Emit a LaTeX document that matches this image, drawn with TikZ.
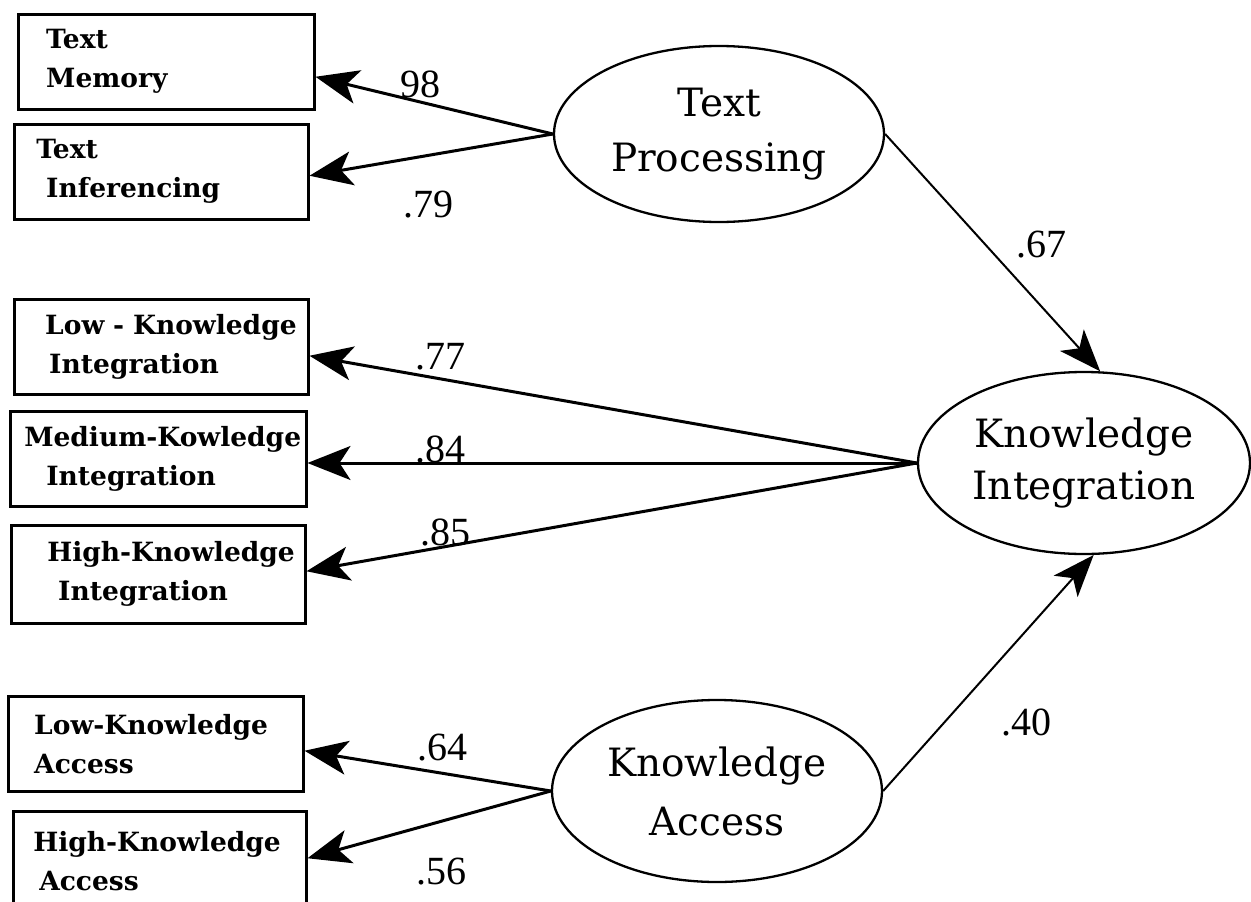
\documentclass[tikz,border=0pt]{standalone}
\usepackage{fontspec}
\setmainfont{Liberation Serif}
\newfontfamily\boxfont{DejaVu Serif}
\newfontfamily\ellfont{DejaVu Serif}
\usetikzlibrary{shapes.geometric,arrows.meta,calc}
\begin{document}
\begin{tikzpicture}[x=1pt,y=-1pt,
  obs/.style={draw,line width=2.5pt,rectangle,anchor=north west,inner xsep=0pt,inner ysep=0pt,
    minimum height=95pt,text width=#1,minimum width=#1,align=left,
    font=\boxfont\bfseries\fontsize{26.5}{39}\selectfont},
  lat/.style={draw,line width=2.3pt,ellipse,inner sep=0pt,minimum width=330pt,minimum height=180pt,
    align=center,font=\ellfont\fontsize{39}{55}\selectfont},
  coef/.style={inner sep=0pt,anchor=center,font=\fontsize{40}{40}\selectfont},
  arr/.style={line width=3pt,-{Stealth[length=43pt,width=34pt,inset=11pt]}},
  arrb/.style={line width=2pt,-{Stealth[length=42pt,width=32pt,inset=11pt]}}]
\useasboundingbox (0,0) rectangle (1251,902);
\clip (0,0) rectangle (1251,902);
\fill[white] (0,0) rectangle (1251,902);

% observed variables
\node[obs=296pt] (tm) at (17,13) {\hspace*{28pt}Text\\\hspace*{28pt}Memory};
\node[obs=294pt] (ti) at (13,123) {\hspace*{22pt}Text\\\hspace*{32pt}Inferencing};
\node[obs=294pt] (lki) at (13,298) {\hspace*{31pt}Low - Knowledge\\\hspace*{35pt}Integration};
\node[obs=296pt] (mki) at (9,410) {\hspace*{14pt}Medium-Kowledge\\\hspace*{36pt}Integration};
\node[obs=294pt, minimum height=98pt] (hki) at (10,524) {\hspace*{36pt}High-Knowledge\\\hspace*{47pt}Integration};
\node[obs=295pt] (lka) at (7,695) {\hspace*{26pt}Low-Knowledge\\\hspace*{26pt}Access};
\node[obs=293pt, minimum height=100pt] (hka) at (12,810) {\hspace*{20pt}High-Knowledge\\\hspace*{26pt}Access};

% latent variables
\node[lat, minimum height=176pt] (tp) at (719,134) {Text\\Processing};
\node[lat, minimum width=332pt, minimum height=182pt, font=\ellfont\fontsize{39}{52}\selectfont] (ki) at (1084,463) {Knowledge\\Integration};
\node[lat, minimum height=182pt, font=\ellfont\fontsize{39}{59}\selectfont] (ka) at (717,791) {Knowledge\\Access};

% paths
\draw[arr] (tp.west) -- ($(tm.east)+(0,15)$);
\draw[arr] (tp.west) -- ($(ti.east)+(0,4)$);
\draw[arr] (ki.west) -- ($(lki.east)+(0,9)$);
\draw[arr] (ki.west) -- (ki.west -| mki.east);
\draw[arr] (ki.west) -- ($(hki.east)+(0,-3)$);
\draw[arr] (ka.west) -- ($(lka.east)+(0,7)$);
\draw[arr] (ka.west) -- ($(hka.east)+(0,-3)$);
\draw[arrb] (tp.east) -- (ki.80);
\draw[arrb] (ka.east) -- (ki.-84);

% coefficients
\node[coef] (c98) at (420,84) {98};
\node[coef] (c79) at (428,205) {.79};
\node[coef] (c67) at (1041,245) {.67};
\node[coef] (c77) at (440,357) {.77};
\node[coef] (c84) at (440,449) {.84};
\node[coef] (c85) at (445,532) {.85};
\node[coef] (c64) at (442,748) {.64};
\node[coef] (c56) at (441,872) {.56};
\node[coef] (c40) at (1026,722) {.40};
\end{tikzpicture}
\end{document}
